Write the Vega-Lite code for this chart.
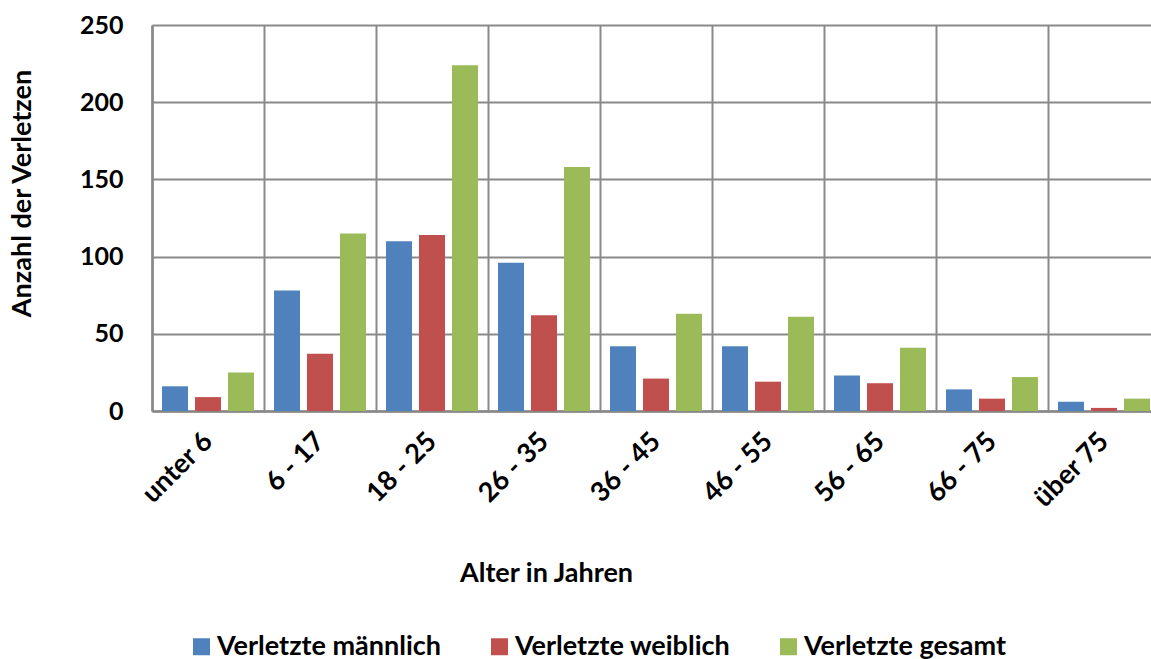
{
  "$schema": "https://vega.github.io/schema/vega-lite/v6.json",
  "autosize": {"type": "none"},
  "padding": {"left": 152, "top": 25, "right": 0, "bottom": 248},
  "width": 999,
  "height": 386,
  "background": "white",
  "config": {
    "font": "Lato",
    "view": {"stroke": null},
    "axis": {"labelFont": "Lato", "titleFont": "Lato", "labelFontWeight": "bold", "titleFontWeight": "bold", "labelColor": "#000", "titleColor": "#000"}
  },
  "data": {
    "values": [
      {"age": "unter 6", "series": "Verletzte männlich", "value": 16},
      {"age": "unter 6", "series": "Verletzte weiblich", "value": 9},
      {"age": "unter 6", "series": "Verletzte gesamt", "value": 25},
      {"age": "6 - 17", "series": "Verletzte männlich", "value": 78},
      {"age": "6 - 17", "series": "Verletzte weiblich", "value": 37},
      {"age": "6 - 17", "series": "Verletzte gesamt", "value": 115},
      {"age": "18 - 25", "series": "Verletzte männlich", "value": 110},
      {"age": "18 - 25", "series": "Verletzte weiblich", "value": 114},
      {"age": "18 - 25", "series": "Verletzte gesamt", "value": 224},
      {"age": "26 - 35", "series": "Verletzte männlich", "value": 96},
      {"age": "26 - 35", "series": "Verletzte weiblich", "value": 62},
      {"age": "26 - 35", "series": "Verletzte gesamt", "value": 158},
      {"age": "36 - 45", "series": "Verletzte männlich", "value": 42},
      {"age": "36 - 45", "series": "Verletzte weiblich", "value": 21},
      {"age": "36 - 45", "series": "Verletzte gesamt", "value": 63},
      {"age": "46 - 55", "series": "Verletzte männlich", "value": 42},
      {"age": "46 - 55", "series": "Verletzte weiblich", "value": 19},
      {"age": "46 - 55", "series": "Verletzte gesamt", "value": 61},
      {"age": "56 - 65", "series": "Verletzte männlich", "value": 23},
      {"age": "56 - 65", "series": "Verletzte weiblich", "value": 18},
      {"age": "56 - 65", "series": "Verletzte gesamt", "value": 41},
      {"age": "66 - 75", "series": "Verletzte männlich", "value": 14},
      {"age": "66 - 75", "series": "Verletzte weiblich", "value": 8},
      {"age": "66 - 75", "series": "Verletzte gesamt", "value": 22},
      {"age": "über 75", "series": "Verletzte männlich", "value": 6},
      {"age": "über 75", "series": "Verletzte weiblich", "value": 2},
      {"age": "über 75", "series": "Verletzte gesamt", "value": 8}
    ]
  },
  "mark": {"type": "bar"},
  "encoding": {
    "x": {
      "field": "age",
      "type": "nominal",
      "sort": ["unter 6", "6 - 17", "18 - 25", "26 - 35", "36 - 45", "46 - 55", "56 - 65", "66 - 75", "über 75"],
      "scale": {"paddingInner": 0, "paddingOuter": 0, "range": [0, 1008]},
      "axis": {
        "title": "Alter in Jahren",
        "titleFontSize": 27,
        "titleX": 394,
        "titleY": 170,
        "titleAlign": "center",
        "titleBaseline": "alphabetic",
        "labelAngle": -45,
        "labelAlign": "right",
        "labelBaseline": "middle",
        "labelFontSize": 27,
        "labelPadding": 26,
        "tickBand": "extent",
        "ticks": false,
        "grid": true,
        "gridColor": "#898989",
        "gridWidth": 2,
        "domainColor": "#898989",
        "domainWidth": 2.5
      }
    },
    "xOffset": {
      "field": "series",
      "type": "nominal",
      "sort": ["Verletzte männlich", "Verletzte weiblich", "Verletzte gesamt"],
      "scale": {"paddingInner": 0.212, "paddingOuter": 0.303}
    },
    "y": {
      "field": "value",
      "type": "quantitative",
      "scale": {"domain": [0, 250], "nice": false},
      "axis": {
        "title": "Anzahl der Verletzen",
        "titleFontSize": 27,
        "titleX": -130,
        "titleY": 168,
        "titleAngle": -90,
        "titleAlign": "center",
        "titleBaseline": "middle",
        "values": [0, 50, 100, 150, 200, 250],
        "labelFontSize": 25,
        "labelPadding": 29,
        "ticks": false,
        "grid": true,
        "gridColor": "#898989",
        "gridWidth": 2,
        "domainColor": "#898989",
        "domainWidth": 2.5
      }
    },
    "color": {
      "field": "series",
      "type": "nominal",
      "sort": ["Verletzte männlich", "Verletzte weiblich", "Verletzte gesamt"],
      "scale": {"domain": ["Verletzte männlich", "Verletzte weiblich", "Verletzte gesamt"], "range": ["#4F81BD", "#C0504D", "#9BBB59"]},
      "legend": {
        "title": null,
        "orient": "none",
        "direction": "horizontal",
        "padding": 0,
        "legendX": 36,
        "legendY": 608,
        "symbolType": "square",
        "symbolSize": 289,
        "symbolStrokeWidth": 0,
        "labelFont": "Lato",
        "labelFontWeight": "bold",
        "labelFontSize": 27,
        "labelColor": "#000",
        "labelOffset": 2,
        "labelLimit": 400,
        "columnPadding": 44
      }
    }
  }
}
